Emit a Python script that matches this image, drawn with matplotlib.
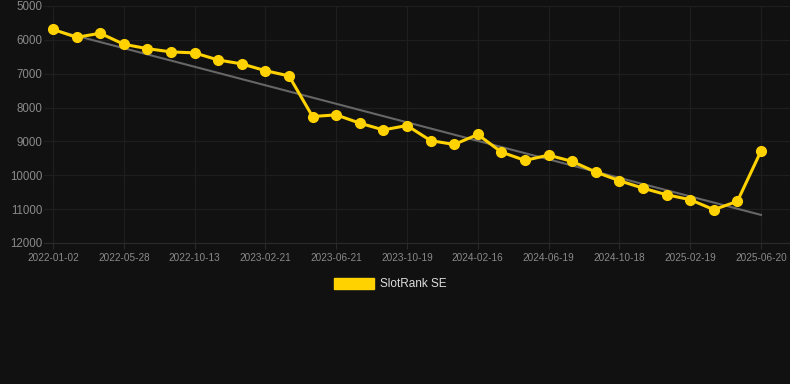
import numpy as np
import matplotlib.pyplot as plt
from matplotlib.patches import Patch

# rank values (one point per period)
ranks = [5690, 5925, 5805, 6130, 6260, 6355, 6385, 6595, 6710, 6910,
         7065, 8265, 8215, 8460, 8660, 8530, 8975, 9090, 8795, 9315,
         9560, 9405, 9590, 9905, 10160, 10380, 10575, 10720, 11015, 10770,
         9285]
tick_labels = ['2022-01-02', '2022-05-28', '2022-10-13', '2023-02-21', '2023-06-21',
               '2023-10-19', '2024-02-16', '2024-06-19', '2024-10-18', '2025-02-19',
               '2025-06-20']
trend_ends = [5700, 11170]
series_name = 'SlotRank SE'

bg = '#111111'
gold = '#FFD200'
plt.rcParams['font.family'] = ['Liberation Sans', 'DejaVu Sans']

fig = plt.figure(figsize=(7.9, 3.84), dpi=100, facecolor=bg)
ax = fig.add_axes([44 / 790, 1 - 243 / 384, 746 / 790, 237 / 384], facecolor=bg)

x = np.arange(len(ranks))
ax.plot([x[0], x[-1]], trend_ends, color='#666666', lw=1.5, zorder=2)
ax.plot(x, ranks, color=gold, lw=2.2, marker='o', markersize=7, zorder=3)

ax.set_xlim(-0.38, 31.23)
ax.set_ylim(12000, 5000)
ax.set_yticks(range(5000, 12001, 1000))
ax.set_xticks(x[::3])
ax.set_xticklabels(tick_labels)

ax.grid(True, color='#1e1e1e', lw=0.9)
ax.set_axisbelow(True)
for s in ['top', 'right', 'left']:
    ax.spines[s].set_visible(False)
ax.spines['bottom'].set_color('#2a2a2a')
ax.tick_params(axis='y', length=0, colors='#8a8a8a', labelsize=8.3, pad=1)
ax.tick_params(axis='x', length=4, color='#2a2a2a', colors='#8a8a8a', labelsize=7.2, pad=3)

fig.legend(handles=[Patch(color=gold, label=series_name)], loc='center',
           bbox_to_anchor=(390 / 790, 1 - 284 / 384), frameon=False,
           handlelength=3.4, handleheight=1.1, handletextpad=0.5,
           labelcolor='#dddddd', fontsize=8.5)

fig.savefig('out.png', dpi=100, facecolor=bg)
